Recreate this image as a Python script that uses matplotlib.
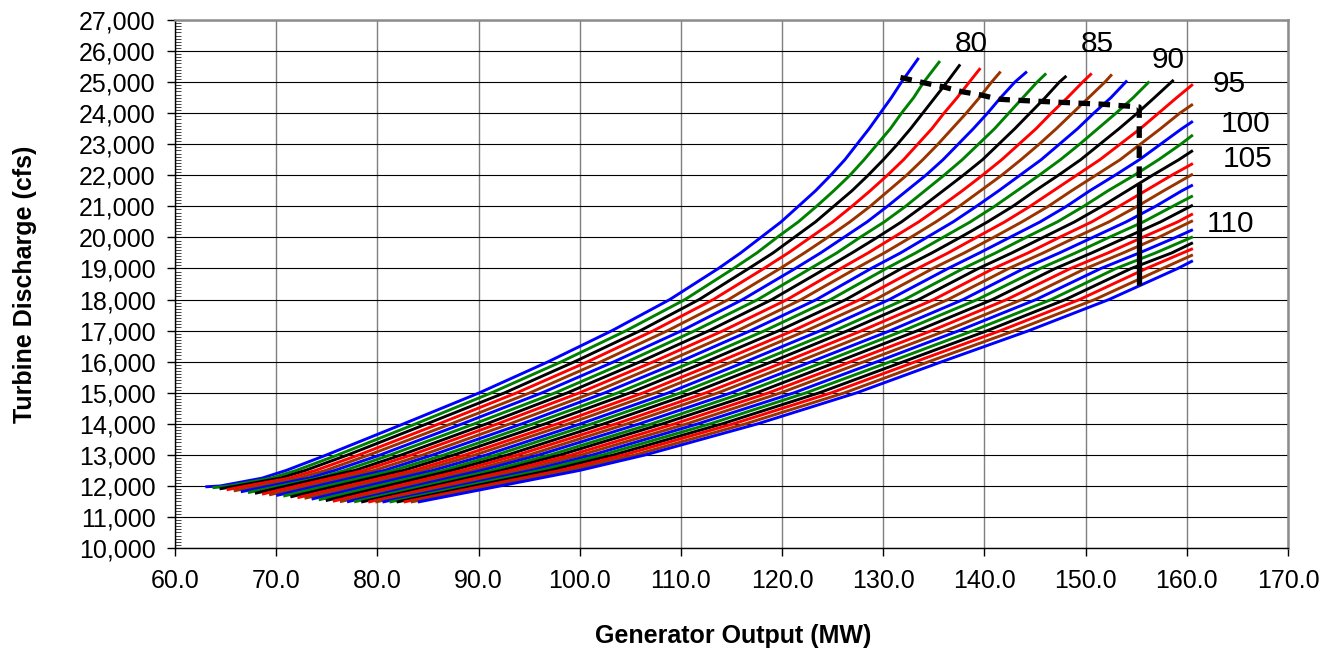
import matplotlib.pyplot as plt
from matplotlib.ticker import MultipleLocator, FuncFormatter

LEVELS = [12000, 12250, 12500, 13000, 14000, 15000, 16000, 17000, 18000,
          19000, 19500, 20000, 20500, 21000, 21500, 22000, 22500, 23000,
          23500, 24000, 24500, 25000]

N = None
# generator output (MW) of each curve at the levels above, None = not on that curve
MW_AT_LEVEL = [
    [64.5, 68.6, 71.0, 75.0, 82.6, 90.1, 96.9, 103.2, 108.9, 113.7, 115.9, 117.9, 119.9, 121.6, 123.3, 124.8, 126.2, 127.4, 128.6, 129.7, 130.8, 131.8],
    [65.4, 69.5, 72.0, 76.1, 83.8, 91.3, 98.2, 104.6, 110.4, 115.2, 117.5, 119.5, 121.6, 123.4, 125.1, 126.7, 128.1, 129.4, 130.7, 131.8, 133.0, 134.0],
    [66.2, 70.4, 72.9, 77.1, 84.9, 92.6, 99.5, 106.0, 111.8, 116.7, 119.1, 121.2, 123.3, 125.1, 126.9, 128.5, 130.0, 131.4, 132.7, 133.9, 135.1, 136.3],
    [67.1, 71.3, 73.9, 78.2, 86.1, 93.8, 100.8, 107.3, 113.2, 118.2, 120.6, 122.8, 125.0, 126.9, 128.7, 130.4, 132.0, 133.4, 134.8, 136.0, 137.3, 138.5],
    [N, 72.2, 74.9, 79.2, 87.3, 95.1, 102.1, 108.7, 114.7, 119.8, 122.2, 124.5, 126.7, 128.7, 130.5, 132.3, 133.9, 135.4, 136.8, 138.2, 139.5, 140.7],
    [N, 73.2, 75.8, 80.3, 88.4, 96.3, 103.4, 110.1, 116.1, 121.3, 123.8, 126.1, 128.4, 130.4, 132.3, 134.2, 135.9, 137.4, 138.9, 140.3, 141.6, 143.0],
    [N, 74.1, 76.8, 81.3, 89.6, 97.6, 104.7, 111.4, 117.6, 122.8, 125.4, 127.7, 130.1, 132.2, 134.1, 136.0, 137.8, 139.4, 141.0, 142.4, 143.8, 145.2],
    [N, N, 77.8, 82.4, 90.8, 98.8, 106.0, 112.8, 119.0, 124.3, 126.9, 129.4, 131.8, 133.9, 135.9, 137.9, 139.8, 141.4, 143.0, 144.5, 146.0, 147.4],
    [N, N, 78.7, 83.4, 91.9, 100.0, 107.3, 114.2, 120.5, 125.8, 128.5, 131.0, 133.5, 135.7, 137.8, 139.8, 141.7, 143.4, 145.1, 146.6, 148.2, 149.7],
    [N, N, 79.7, 84.5, 93.1, 101.3, 108.6, 115.6, 121.9, 127.3, 130.1, 132.7, 135.2, 137.5, 139.6, 141.7, 143.6, 145.4, 147.1, 148.7, 150.3, 151.9],
    [N, N, 80.7, 85.5, 94.3, 102.5, 109.9, 116.9, 123.4, 128.8, 131.7, 134.3, 136.9, 139.2, 141.4, 143.5, 145.6, 147.4, 149.2, 150.8, 152.5, N],
    [N, N, 81.6, 86.6, 95.4, 103.8, 111.2, 118.3, 124.8, 130.3, 133.2, 135.9, 138.6, 141.0, 143.2, 145.4, 147.5, 149.4, 151.2, 153.0, 154.7, N],
    [N, N, 82.6, 87.6, 96.6, 105.0, 112.5, 119.7, 126.3, 131.8, 134.8, 137.6, 140.3, 142.8, 145.0, 147.3, 149.5, 151.4, 153.3, 155.1, 156.8, N],
    [N, N, 83.6, 88.7, 97.8, 106.3, 113.8, 121.1, 127.7, 133.4, 136.4, 139.2, 142.0, 144.5, 146.8, 149.1, 151.4, 153.4, 155.4, 157.2, 159.0, N],
    [N, N, 84.5, 89.7, 98.9, 107.5, 115.1, 122.4, 129.2, 134.9, 138.0, 140.9, 143.7, 146.3, 148.6, 151.0, 153.4, 155.4, 157.4, 159.3, N, N],
    [N, N, 85.5, 90.8, 100.1, 108.8, 116.4, 123.8, 130.6, 136.4, 139.5, 142.5, 145.5, 148.1, 150.4, 152.9, 155.3, 157.4, 159.5, N, N, N],
    [N, N, 86.5, 91.8, 101.2, 110.0, 117.7, 125.2, 132.1, 137.9, 141.1, 144.1, 147.2, 149.8, 152.2, 154.8, 157.2, 159.4, N, N, N, N],
    [N, N, 87.4, 92.9, 102.4, 111.2, 119.0, 126.5, 133.5, 139.4, 142.7, 145.8, 148.9, 151.6, 154.1, 156.6, 159.2, N, N, N, N, N],
    [N, N, 88.4, 93.9, 103.6, 112.5, 120.3, 127.9, 135.0, 140.9, 144.3, 147.4, 150.6, 153.3, 155.9, 158.5, N, N, N, N, N, N],
    [N, N, 89.4, 95.0, 104.7, 113.7, 121.6, 129.3, 136.4, 142.4, 145.8, 149.0, 152.3, 155.1, 157.7, N, N, N, N, N, N, N],
    [N, N, 90.3, 96.0, 105.9, 115.0, 122.9, 130.7, 137.9, 143.9, 147.4, 150.7, 154.0, 156.9, 159.5, N, N, N, N, N, N, N],
    [N, N, 91.3, 97.1, 107.1, 116.2, 124.2, 132.0, 139.3, 145.5, 149.0, 152.3, 155.7, 158.6, N, N, N, N, N, N, N, N],
    [N, N, 92.3, 98.1, 108.2, 117.5, 125.5, 133.4, 140.8, 147.0, 150.6, 154.0, 157.4, N, N, N, N, N, N, N, N, N],
    [N, N, 93.2, 99.2, 109.4, 118.7, 126.8, 134.8, 142.2, 148.5, 152.2, 155.6, 159.1, N, N, N, N, N, N, N, N, N],
    [N, N, 94.2, 100.2, 110.6, 119.9, 128.1, 136.2, 143.7, 150.0, 153.7, 157.2, N, N, N, N, N, N, N, N, N, N],
    [N, N, 95.2, 101.3, 111.7, 121.2, 129.4, 137.5, 145.1, 151.5, 155.3, 158.9, N, N, N, N, N, N, N, N, N, N],
    [N, N, 96.1, 102.3, 112.9, 122.4, 130.7, 138.9, 146.6, 153.0, 156.9, N, N, N, N, N, N, N, N, N, N, N],
    [N, N, 97.1, 103.4, 114.1, 123.7, 132.0, 140.3, 148.0, 154.5, 158.5, N, N, N, N, N, N, N, N, N, N, N],
    [N, N, 98.1, 104.4, 115.2, 124.9, 133.2, 141.6, 149.4, 156.0, N, N, N, N, N, N, N, N, N, N, N, N],
    [N, N, 99.0, 105.5, 116.4, 126.2, 134.5, 143.0, 150.9, 157.6, N, N, N, N, N, N, N, N, N, N, N, N],
    [N, N, 100.0, 106.5, 117.6, 127.4, 135.8, 144.4, 152.3, 159.1, N, N, N, N, N, N, N, N, N, N, N, N],
]

# first and last point of every curve
START_MW = [63.0, 63.7, 64.4, 65.1, 65.8, 66.5, 67.2, 67.9, 68.6, 69.3, 70.0,
            70.7, 71.4, 72.1, 72.8, 73.5, 74.2, 74.9, 75.6, 76.3, 77.0,
            77.7, 78.4, 79.1, 79.8, 80.5, 81.2, 81.9, 82.6, 83.3, 84.0]
START_CFS = [11970, 11940, 11905, 11875, 11840, 11810, 11785, 11760, 11735, 11710, 11690,
             11670, 11645, 11620, 11600, 11575, 11550, 11525, 11505, 11490, 11485,
             11485, 11480, 11480, 11480, 11480, 11480, 11480, 11480, 11480, 11480]
END_MW = [133.5, 135.6, 137.6, 139.6, 141.6, 144.2, 146.1, 148.1, 150.6, 152.6,
          154.1, 156.3, 158.7] + [160.6] * 18
END_CFS = [25780, 25680, 25570, 25450, 25340, 25340, 25280, 25200, 25280, 25250,
           25050, 25020, 25070, 24930, 24290, 23740, 23300, 22800, 22380, 22040,
           21690, 21340, 21040, 20760, 20540, 20250, 20020, 19830, 19640, 19440, 19250]

# head labels written on the chart
LABEL_TEXT = ["80", "85", "90", "95", "100", "105", "110"]
LABEL_MW = [138.7, 151.2, 158.2, 164.2, 165.8, 166.0, 164.3]
LABEL_CFS = [26230, 26230, 25710, 24940, 23650, 22540, 20420]

# black dashed limit line and its drop
LIMIT_MW = [131.7, 134.0, 135.9, 137.8, 139.6, 141.4, 143.6, 147.5, 151.6, 155.3, 155.3]
LIMIT_CFS = [25150, 24980, 24850, 24690, 24590, 24450, 24410, 24350, 24290, 24200, 21750]
DROP_MW = [155.3, 155.3]
DROP_CFS = [21750, 18470]

COLORS = ["#0000FF", "#008000", "#000000", "#FF0000", "#993300"]

plt.rcParams["font.family"] = ["Liberation Sans", "DejaVu Sans"]

fig = plt.figure(figsize=(13.39, 6.56), dpi=100)
ax = fig.add_axes([0.1307, 0.1646, 0.8312, 0.8049])

# curves
for i, row in enumerate(MW_AT_LEVEL):
    xs = [START_MW[i]] + [m for m in row if m is not None] + [END_MW[i]]
    ys = [START_CFS[i]] + [q for m, q in zip(row, LEVELS) if m is not None] + [END_CFS[i]]
    ax.plot(xs, ys, color=COLORS[i % 5], lw=2.1, solid_capstyle="butt",
            solid_joinstyle="round", zorder=3)

# dashed limit line
ax.plot(LIMIT_MW, LIMIT_CFS, color="black", lw=3.8, dashes=(2.2, 1.6), zorder=4)
ax.plot(DROP_MW, DROP_CFS, color="black", lw=3.8, solid_capstyle="butt", zorder=4)

for t, x, y in zip(LABEL_TEXT, LABEL_MW, LABEL_CFS):
    ax.text(x, y, t, fontsize=21.5, ha="center", va="center", zorder=5)

# axes
ax.set_xlim(60, 170)
ax.set_ylim(10000, 27000)
ax.xaxis.set_major_locator(MultipleLocator(10))
ax.yaxis.set_major_locator(MultipleLocator(1000))
ax.yaxis.set_minor_locator(MultipleLocator(100))
ax.xaxis.set_major_formatter(FuncFormatter(lambda v, p: f"{v:.1f}"))
ax.yaxis.set_major_formatter(FuncFormatter(lambda v, p: f"{int(round(v)):,}"))
ax.tick_params(axis="both", which="major", direction="out", length=6, width=1,
               labelsize=18, colors="black")
ax.tick_params(axis="y", which="major", pad=8)
ax.tick_params(axis="x", which="major", pad=9)
ax.tick_params(axis="y", which="minor", direction="in", length=4, width=0.7, color="#444444")

ax.grid(axis="y", which="major", color="black", lw=0.8, zorder=1)
ax.grid(axis="x", which="major", color="#7f7f7f", lw=1.0, zorder=1)

for side in ["top", "right"]:
    ax.spines[side].set_color("#8c8c8c")
    ax.spines[side].set_linewidth(1.8)
for side in ["left", "bottom"]:
    ax.spines[side].set_color("black")
    ax.spines[side].set_linewidth(1.0)

fig.text(25 / 1339, 1 - 284 / 656, "Turbine Discharge (cfs)", rotation=90,
         ha="center", va="center", fontsize=18, fontweight="bold")
fig.text(733 / 1339, 1 - 636 / 656, "Generator Output (MW)",
         ha="center", va="center", fontsize=18, fontweight="bold")

fig.savefig("out.png", dpi=100)
